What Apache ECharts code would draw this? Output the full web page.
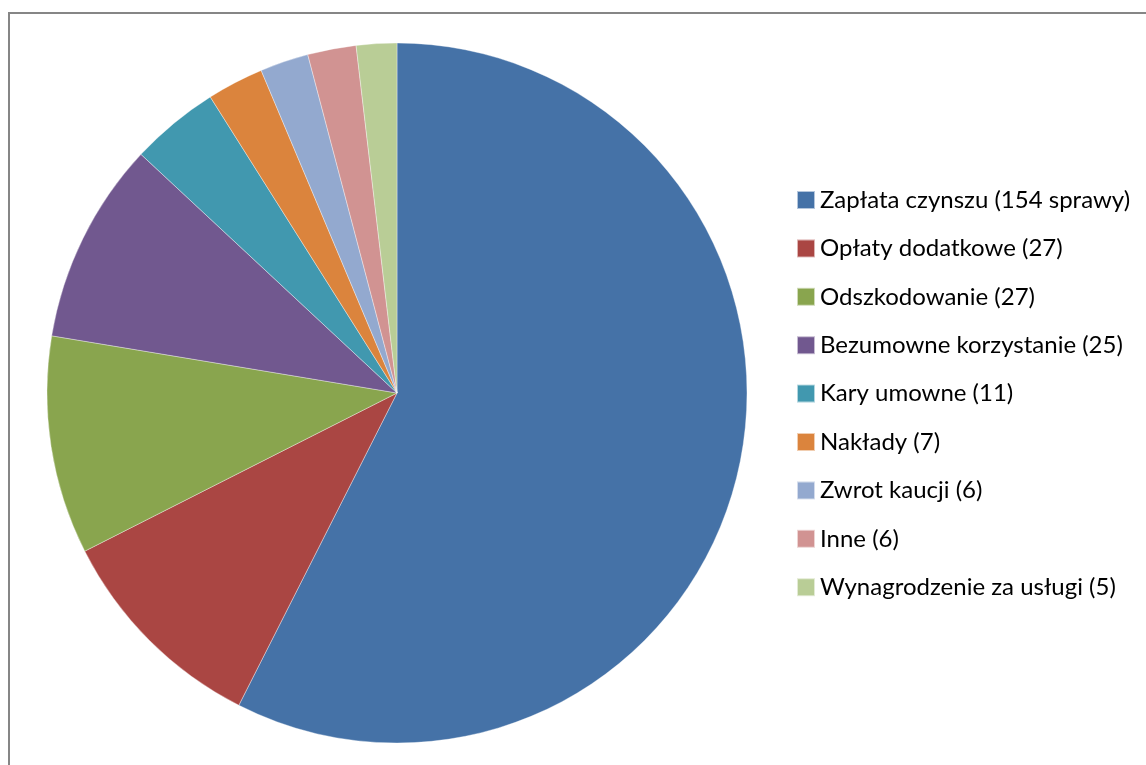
<!DOCTYPE html>
<html>
<head>
<meta charset="utf-8">
<script src="https://cdn.jsdelivr.net/npm/echarts@6/dist/echarts.min.js"></script>
<style>
  html, body { margin: 0; padding: 0; background: #fff; }
  #chart { width: 1146px; height: 765px; }
</style>
</head>
<body>
<div id="chart"></div>
<script>
// Case categories and their counts
const categories = [
  'Zapłata czynszu (154 sprawy)',
  'Opłaty dodatkowe (27)',
  'Odszkodowanie (27)',
  'Bezumowne korzystanie (25)',
  'Kary umowne (11)',
  'Nakłady (7)',
  'Zwrot kaucji (6)',
  'Inne (6)',
  'Wynagrodzenie za usługi (5)'
];
const counts = [154, 27, 27, 25, 11, 7, 6, 6, 5];
const colors = ['#4572A7', '#AA4643', '#89A54E', '#71588F', '#4198AF',
                '#DB843D', '#93A9CF', '#D19392', '#B9CD96'];

const chart = echarts.init(document.getElementById('chart'), null, { renderer: 'canvas' });

chart.setOption({
  animation: false,
  color: colors,
  graphic: [{
    type: 'rect',
    shape: { x: 9, y: 13, width: 1200, height: 800 },
    style: { fill: 'none', stroke: '#868686', lineWidth: 2 },
    silent: true,
    z: -1
  }],
  legend: {
    orient: 'vertical',
    left: 796,
    top: 188,
    padding: 0,
    icon: 'rect',
    itemWidth: 18,
    itemHeight: 18,
    itemGap: 24.4,
    textStyle: {
      fontFamily: 'Lato, "Noto Sans", sans-serif',
      fontSize: 24,
      lineHeight: 24,
      color: '#000',
      padding: [0, 0, 0, 0]
    },
    data: categories
  },
  series: [{
    type: 'pie',
    center: [397, 393],
    radius: [0, 350],
    startAngle: 90,
    clockwise: true,
    label: { show: false },
    labelLine: { show: false },
    emphasis: { disabled: true },
    itemStyle: { borderColor: 'rgba(255,255,255,0.6)', borderWidth: 0.6 },
    data: categories.map((name, i) => ({ name: name, value: counts[i] }))
  }]
});
</script>
</body>
</html>
